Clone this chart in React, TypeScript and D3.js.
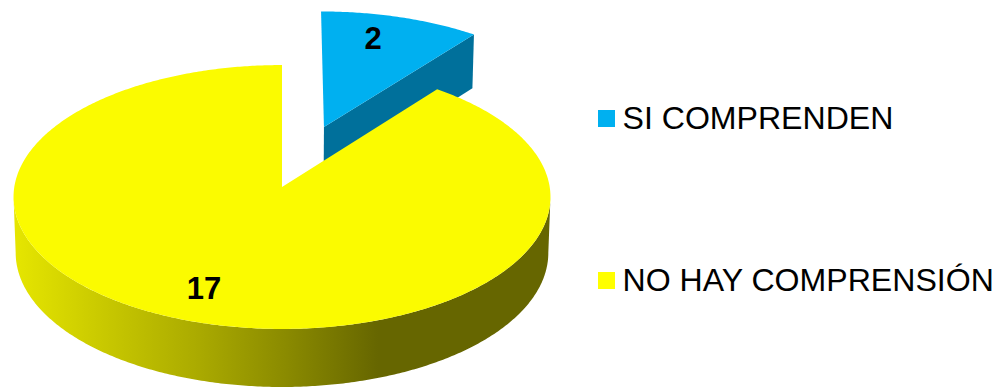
import React from "react";
import * as d3 from "d3";

const categories = ["SI COMPRENDEN", "NO HAY COMPRENSIÓN"];
const counts = [2, 17];
const topColors = ["#00B0F0", "#FBFB00"];
const legendColors = ["#00B0F0", "#FFFF00"];
const shadeStops: [number, string][] = [
  [0, "#E6E600"],
  [0.25, "#C8C800"],
  [0.5, "#ABAB00"],
  [0.75, "#8A8A00"],
  [1, "#666600"],
];

const W = 1004;
const H = 388;
const FONT = "'Liberation Sans', Arial, sans-serif";

// Perspective view of the disc: the far rim is foreshortened relative to the near rim.
const centre = { x: 282, y: 187 };
const radiusX = 267.7;
const radiusY = 131.2;
const tilt = 0.0758;
const explode = 0.5;
const sliceScale = 1.015;
const wall = { dy: 55.6, sx: 0.992, sy: 1.017 };

type Pt = [number, number];

// Projects a point of the unit disc (x right, y away from the viewer); lower lifts it to the base.
function project(X: number, Y: number, lower = false): Pt {
  const d = 1 + tilt * Y;
  const px = (radiusX * X) / d;
  const py = (-radiusY * Y) / d;
  return lower
    ? [centre.x + px * wall.sx, centre.y + wall.dy + py * wall.sy]
    : [centre.x + px, centre.y + py];
}

const pie = d3.pie<number>().sort(null).value((d) => d);
const arcs = pie(counts);

const rim = (a0: number, a1: number, ox = 0, oy = 0, lower = false): Pt[] => {
  const n = Math.max(2, Math.ceil(Math.abs(a1 - a0) / 0.01));
  return d3.range(n + 1).map((i) => {
    const a = a0 + ((a1 - a0) * i) / n;
    return project(ox + Math.sin(a), oy + Math.cos(a), lower);
  });
};

const line = d3.line<Pt>();
const closed = (pts: Pt[]) => (line(pts) ?? "") + "Z";

const blue = arcs[0];
const mid = (blue.startAngle + blue.endAngle) / 2;
const ox = explode * Math.sin(mid);
const oy = explode * Math.cos(mid);
const blueApex = project(ox, oy);

// Exploded slice: top face and the visible cut face.
const blueTop = closed([blueApex, ...rim(blue.startAngle, blue.endAngle, ox, oy)]);
const blueEdge: Pt = [ox + Math.sin(blue.endAngle), oy + Math.cos(blue.endAngle)];
const blueSide = closed([
  blueApex,
  project(blueEdge[0], blueEdge[1]),
  project(blueEdge[0], blueEdge[1], true),
  project(ox, oy, true),
]);
const blueTransform =
  `translate(${blueApex[0]},${blueApex[1]}) scale(${sliceScale}) translate(${-blueApex[0]},${-blueApex[1]})`;

// Large slice: top face and the curved front wall.
const yellow = arcs[1];
const yellowTop = closed([project(0, 0), ...rim(yellow.startAngle, yellow.endAngle)]);
const limitR = Math.PI / 2 + 0.076;
const limitL = (3 * Math.PI) / 2 - 0.076;
const yellowWall = closed([...rim(limitR, limitL), ...rim(limitL, limitR, 0, 0, true)]);

export default function App() {
  return (
    <svg
      width={W}
      height={H}
      viewBox={`0 0 ${W} ${H}`}
      style={{ position: "absolute", left: 0, top: 0, background: "#fff" }}
    >
      <defs>
        <linearGradient id="wallShade" gradientUnits="userSpaceOnUse" x1={14} x2={378} y1={0} y2={0}>
          {shadeStops.map(([o, c]) => (
            <stop key={o} offset={o} stopColor={c} />
          ))}
        </linearGradient>
      </defs>

      <g transform={blueTransform}>
        <path d={blueSide} fill="#00709B" />
        <path d={blueTop} fill={topColors[0]} />
      </g>
      <path d={yellowWall} fill="url(#wallShade)" />
      <path d={yellowTop} fill={topColors[1]} />

      <text x={373} y={49} textAnchor="middle" fontFamily={FONT} fontSize={31} fontWeight="bold" fill="#000">
        {counts[0]}
      </text>
      <text x={204} y={299} textAnchor="middle" fontFamily={FONT} fontSize={31} fontWeight="bold" fill="#000">
        {counts[1]}
      </text>

      {categories.map((c, i) => {
        const baseline = [129, 291][i];
        return (
          <g key={c}>
            <rect x={598} y={baseline - 19} width={17} height={17} fill={legendColors[i]} />
            <text x={622.5} y={baseline} fontFamily={FONT} fontSize={32.1} fill="#000">
              {c}
            </text>
          </g>
        );
      })}
    </svg>
  );
}
